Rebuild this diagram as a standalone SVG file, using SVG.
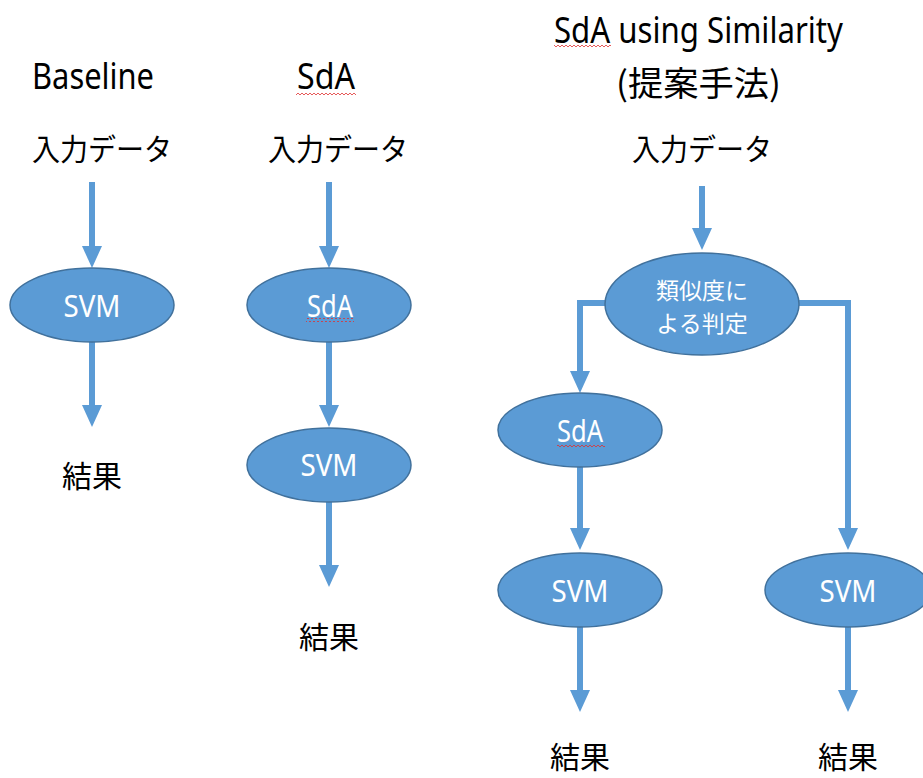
<svg xmlns="http://www.w3.org/2000/svg" width="923" height="778" viewBox="0 0 923 778">
<style>
.t{font-family:"Noto Sans","Noto Sans CJK JP",sans-serif;fill:#000}
.j{font-family:"Noto Sans CJK JP","Noto Sans",sans-serif;fill:#000}
.w{font-family:"Noto Sans","Noto Sans CJK JP",sans-serif;fill:#fff;text-anchor:middle}
.wj{font-family:"Noto Sans CJK JP",sans-serif;fill:#fff;text-anchor:middle;font-size:23px}
.e{fill:#5B9BD5;stroke:#41719C;stroke-width:1.5}
.c{fill:none;stroke:#5B9BD5;stroke-width:6}
</style>
<defs>
<marker id="ah" markerUnits="userSpaceOnUse" markerWidth="22" markerHeight="20" refX="0" refY="10" orient="auto">
<path d="M0,0 L22,10 L0,20 Z" fill="#5B9BD5"/>
</marker>
<pattern id="wavy" width="4" height="4" patternUnits="userSpaceOnUse">
<path d="M0,3 L2,1 L4,3" fill="none" stroke="#E03030" stroke-width="0.8"/>
</pattern>
</defs>
<rect width="923" height="778" fill="#fff"/>

<g id="titles">
<text class="t" x="32" y="89" font-size="36" textLength="122" lengthAdjust="spacingAndGlyphs">Baseline</text>
<text class="t" x="297" y="89" font-size="36" textLength="58" lengthAdjust="spacingAndGlyphs">SdA</text>
<rect x="296" y="91" width="60" height="4" fill="url(#wavy)"/>
<text class="t" x="554" y="43" font-size="36" textLength="289" lengthAdjust="spacingAndGlyphs">SdA using Similarity</text>
<rect x="554" y="44" width="57" height="4" fill="url(#wavy)"/>
<text class="j" x="616" y="96" font-size="34" textLength="165" lengthAdjust="spacingAndGlyphs">(提案手法)</text>
</g>

<g id="connectors">
<path class="c" d="M92,182 V246" marker-end="url(#ah)"/>
<path class="c" d="M92,342 V405" marker-end="url(#ah)"/>
<path class="c" d="M329,182 V246" marker-end="url(#ah)"/>
<path class="c" d="M329,342 V405" marker-end="url(#ah)"/>
<path class="c" d="M329,502 V565" marker-end="url(#ah)"/>
<path class="c" d="M702,186 V228" marker-end="url(#ah)"/>
<path class="c" d="M606,303 H580 V371" marker-end="url(#ah)"/>
<path class="c" d="M799,303 H848 V528" marker-end="url(#ah)"/>
<path class="c" d="M580,467 V528" marker-end="url(#ah)"/>
<path class="c" d="M580,627 V690" marker-end="url(#ah)"/>
<path class="c" d="M848,627 V690" marker-end="url(#ah)"/>
</g>

<g id="input-baseline"><text class="j" x="32" y="160" font-size="30" textLength="140" lengthAdjust="spacingAndGlyphs">入力データ</text></g>
<g id="input-sda"><text class="j" x="268" y="160" font-size="30" textLength="140" lengthAdjust="spacingAndGlyphs">入力データ</text></g>
<g id="input-proposed"><text class="j" x="632" y="160" font-size="30" textLength="140" lengthAdjust="spacingAndGlyphs">入力データ</text></g>

<g id="svm-baseline"><ellipse class="e" cx="92" cy="305" rx="82" ry="37"/><text class="w" x="92" y="317" font-size="30" textLength="57" lengthAdjust="spacingAndGlyphs">SVM</text></g>
<g id="sda-sda"><ellipse class="e" cx="329" cy="305" rx="82" ry="37"/><text class="w" x="330" y="317" font-size="30" textLength="46" lengthAdjust="spacingAndGlyphs">SdA</text><rect x="306" y="318" width="48" height="4" fill="url(#wavy)"/></g>
<g id="svm-sda"><ellipse class="e" cx="329" cy="465" rx="82" ry="37"/><text class="w" x="329" y="476" font-size="30" textLength="57" lengthAdjust="spacingAndGlyphs">SVM</text></g>

<g id="similarity"><ellipse class="e" cx="702" cy="304" rx="97" ry="51"/><text class="wj" x="702" y="299">類似度に</text><text class="wj" x="702" y="332">よる判定</text></g>
<g id="sda-proposed"><ellipse class="e" cx="580" cy="430" rx="82" ry="37"/><text class="w" x="580" y="442" font-size="30" textLength="46" lengthAdjust="spacingAndGlyphs">SdA</text><rect x="557" y="443" width="48" height="4" fill="url(#wavy)"/></g>
<g id="svm-proposed-left"><ellipse class="e" cx="580" cy="590" rx="82" ry="37"/><text class="w" x="580" y="602" font-size="30" textLength="57" lengthAdjust="spacingAndGlyphs">SVM</text></g>
<g id="svm-proposed-right"><ellipse class="e" cx="848" cy="590" rx="83" ry="37"/><text class="w" x="848" y="602" font-size="30" textLength="57" lengthAdjust="spacingAndGlyphs">SVM</text></g>

<g id="result-baseline"><text class="j" x="92" y="487" font-size="30" text-anchor="middle">結果</text></g>
<g id="result-sda"><text class="j" x="329" y="648" font-size="30" text-anchor="middle">結果</text></g>
<g id="result-proposed-left"><text class="j" x="580" y="768" font-size="30" text-anchor="middle">結果</text></g>
<g id="result-proposed-right"><text class="j" x="848" y="768" font-size="30" text-anchor="middle">結果</text></g>
</svg>
